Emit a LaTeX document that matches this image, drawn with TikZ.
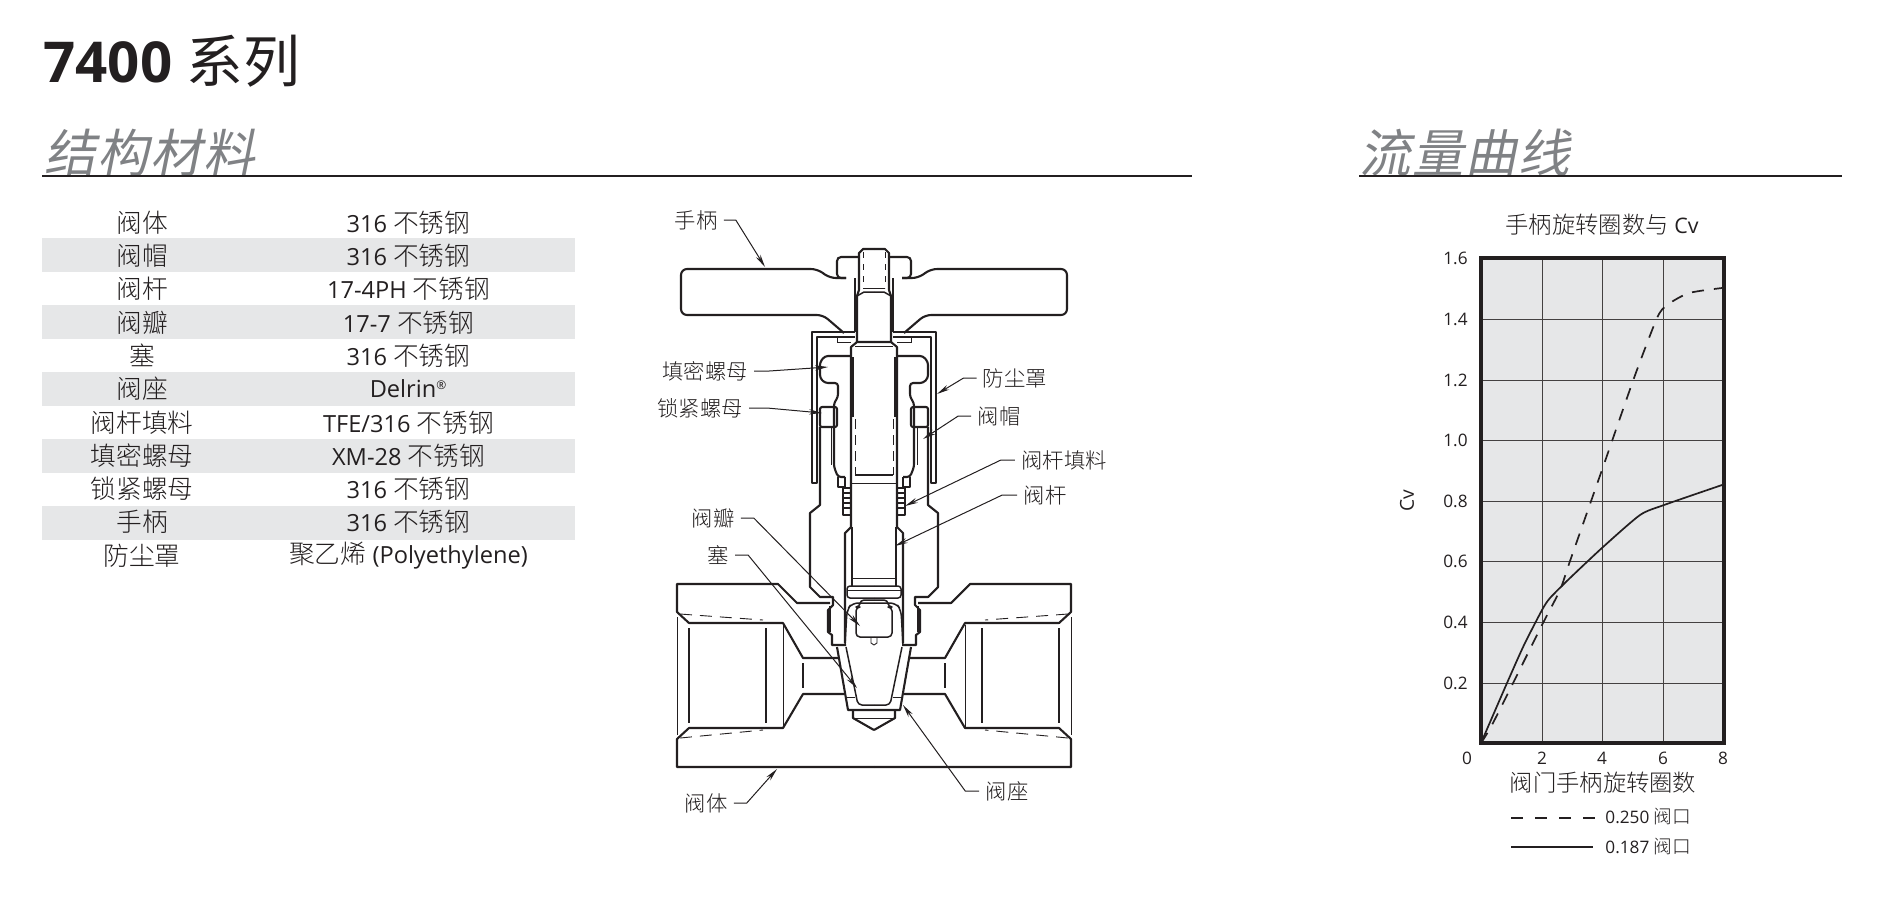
\documentclass[tikz,border=0pt]{standalone}
\usepackage{fontspec}
\usetikzlibrary{arrows.meta}
\setmainfont{Open Sans}
\newfontfamily\cjk[Scale=1.09]{Noto Sans CJK SC Light}
\newfontfamily\cjkhead{Noto Sans CJK SC}
\newfontfamily\cjkslant[FakeSlant=0.2,LetterSpace=3]{Noto Sans CJK SC}
\definecolor{inkblack}{HTML}{231F20}
\definecolor{bandgrey}{HTML}{E6E7E8}
\definecolor{headgrey}{HTML}{808285}
\newcommand{\bxg}{{\cjk 不锈钢}}
\tikzset{
  valveline/.style={line width=1.05pt,line join=round,color=inkblack},
  valvemid/.style={line width=0.75pt,line join=round,color=inkblack},
  valvethin/.style={line width=0.45pt,color=inkblack},
  leader/.style={line width=0.5pt,color=inkblack,->},
  partlabel/.style={font=\cjk\fontsize{9.8}{11}\selectfont,text=inkblack,inner sep=3pt},
  tabletext/.style={font=\fontsize{11.8}{13}\selectfont,text=inkblack,inner sep=0pt},
  ticklabel/.style={font=\fontsize{8.6}{10}\selectfont,text=inkblack,inner sep=0pt},
  chartline/.style={line width=0.85pt,color=inkblack},
  >={Stealth[length=6.5pt,width=2.6pt]}
}
\begin{document}
\begin{tikzpicture}[x=0.5pt,y=-0.5pt]
  \useasboundingbox (0,0) rectangle (1884,902);

  % page heads
  \node[anchor=base west,inner sep=0pt,text=inkblack] (mainTitle) at (43,82)
    {\fontsize{28.2}{30}\selectfont\bfseries 7400 {\mdseries\cjkhead\fontsize{28.4}{30}\selectfont 系列}};
  \node[anchor=west,inner sep=0pt,text=headgrey] (matHead) at (44,152.5)
    {\cjkslant\fontsize{25.8}{28}\selectfont 结构材料};
  \node[anchor=west,inner sep=0pt,text=headgrey] (flowHead) at (1359,152.5)
    {\cjkslant\fontsize{25.8}{28}\selectfont 流量曲线};
  \draw[line width=0.8pt,color=inkblack] (42,176) -- (1192,176);
  \draw[line width=0.8pt,color=inkblack] (1359,176) -- (1842,176);

  % materials table
  \foreach \i in {1,3,5,7,9}
    \fill[bandgrey] (42,204.75+33.5*\i) rectangle (575,238.25+33.5*\i);
  \foreach \part/\mat [count=\i from 0] in {
      阀体/316 \bxg, 阀帽/316 \bxg, 阀杆/17-4PH \bxg, 阀瓣/17-7 \bxg,
      塞/316 \bxg, 阀座/Delrin\textsuperscript{\fontsize{6}{6}\selectfont ®}, 阀杆填料/{TFE/316 \bxg},
      填密螺母/XM-28 \bxg, 锁紧螺母/316 \bxg, 手柄/316 \bxg,
      防尘罩/{{\cjk 聚乙烯} (Polyethylene)}} {
    \node[tabletext] (part\i) at (142,222.5+33.3*\i) {\cjk \part};
    \node[tabletext] (mat\i) at (408.5,222.5+33.3*\i) {\mat};
  }

  % valve, drawn as left half and mirrored about x=874
  \foreach \s in {1,-1} {
  \begin{scope}[shift={(874,0)},xscale=\s,shift={(-874,0)}]
    % handle and nut
    \draw[valveline,rounded corners=3pt] (846,278) -- (830,278) -- (817,269) -- (681,269) -- (681,315) -- (823,315) -- (844,333);
    \draw[valveline,rounded corners=2pt] (846,278) -- (837,278) -- (837,257) -- (859,257);
    \draw[valveline] (855,278) -- (855,332);
    % stem top
    \draw[valveline] (874,249) -- (863,249) -- (859,253) -- (859,290) -- (857,296) -- (857,342);
    \draw[valvethin,dashed] (863,252) -- (863,288);
    \draw[valvethin] (863,288) -- (874,288);
    \draw[valvemid] (857,296) -- (864,292) -- (874,292);
    % stem body
    \draw[valveline] (874,342) -- (857,342) -- (851,347) -- (851,527);
    \draw[valvethin] (855,346) -- (874,346);
    \draw[valveline] (853,357) -- (853,417);
    \draw[valvethin,dash pattern=on 5pt off 3pt] (855,419) -- (855,475);
    \draw[valvemid] (855,475) -- (874,475);
    \draw[valvethin] (851,483) -- (874,483);
    \draw[valvemid] (852,527) -- (852,586);
    \draw[valvethin] (852,578) -- (874,578);
    % dust cap
    \draw[valveline] (855,332) -- (812,332) -- (812,483) -- (817,483) -- (817,337) -- (855,337);
    \draw[valvethin] (837,337) -- (837,342) -- (851,342);
    % packing nut, lock nut, bonnet
    \draw[valveline,rounded corners=1.5pt] (851,356) -- (825,356) -- (820,362) -- (820,378) -- (825,383) -- (838,383) -- (838,397) -- (834,403) -- (834,467) -- (838,477) -- (845,477);
    \draw[valveline,rounded corners=1pt] (837,407) -- (820,407) -- (820,427) -- (837,427) -- cycle;
    \draw[valvethin] (831,428) -- (831,465);
    \draw[valvemid] (838,477) -- (838,487) -- (845,487) -- (845,477);
    \draw[valveline] (820,427) -- (820,505) -- (810,513) -- (810,587) -- (820,597) -- (833,597) -- (833,605) -- (828,610) -- (828,632) -- (832,635) -- (832,645) -- (846,645);
    \draw[valvemid] (830,606) -- (830,632);
    \draw[valveline] (845,643) -- (845,533) -- (851,527);
    % packing
    \draw[valveline] (843,488) -- (843,515) -- (852,515);
    \draw[valveline] (843,488) -- (852,488);
    \foreach \yr in {493,498,503,508}
      \draw[valvemid] (844,\yr) -- (851,\yr);
    % flange, cage and disc
    \draw[valvemid,rounded corners=1.5pt] (874,586) -- (847,586) -- (847,598) -- (874,598);
    \draw[valvethin] (847,590) -- (874,590);
    \draw[valvemid,rounded corners=3pt] (874,603) -- (852,603) -- (847,610) -- (845,645);
    \draw[valvemid,rounded corners=2pt] (874,600) -- (860,600) -- (860,607) -- (856,607) -- (856,637) -- (874,637);
    \draw[valvethin] (871,637) -- (871,643) -- (874,645) ;
    % seat and plug
    \draw[valveline] (837,647) -- (848,710) -- (874,710);
    \draw[valvemid,rounded corners=2pt] (846,647) -- (858,705) -- (874,705);
    \draw[valvethin] (846,697) -- (855,697);
    \draw[valveline] (853,711) -- (853,718) -- (874,730);
    \draw[valvethin] (853,718) -- (874,718);
    % body
    \draw[valveline] (830,603) -- (797,603) -- (778,584) -- (677,584) -- (677,612) -- (689,623) -- (783,623) -- (803,658) -- (839,658);
    \draw[valveline] (844.5,694) -- (803,694) -- (783,728) -- (689,728) -- (677,739) -- (677,767) -- (874,767);
    \draw[valvethin] (677,617) -- (677,735);
    \draw[valvemid] (689,628) -- (689,723);
    \draw[valvemid] (766,628) -- (766,723);
    \draw[valvethin] (783,625) -- (783,727);
    \draw[valvemid] (803,663) -- (803,688);
    \draw[valvethin,dash pattern=on 6pt off 4pt] (680,614) -- (763,620);
    \draw[valvethin,dash pattern=on 6pt off 4pt] (680,738) -- (763,730);
  \end{scope}
  }

  % part labels
  \node[partlabel] (handleLbl) at (696,220) {手柄};
  \node[partlabel] (glandLbl) at (705,371) {填密螺母};
  \node[partlabel] (lockLbl) at (700,408) {锁紧螺母};
  \node[partlabel] (capLbl) at (1015,378) {防尘罩};
  \node[partlabel] (bonnetLbl) at (999,416) {阀帽};
  \node[partlabel] (packLbl) at (1064,460) {阀杆填料};
  \node[partlabel] (stemLbl) at (1045,495) {阀杆};
  \node[partlabel] (discLbl) at (713,518) {阀瓣};
  \node[partlabel] (plugLbl) at (718,555) {塞};
  \node[partlabel] (seatLbl) at (1007,791) {阀座};
  \node[partlabel] (bodyLbl) at (706,803) {阀体};

  \coordinate (handleTip) at (765,267);
  \coordinate (glandTip) at (828,367);
  \coordinate (lockTip) at (822,413);
  \coordinate (capTip) at (937,394);
  \coordinate (bonnetTip) at (923,439);
  \coordinate (packTip) at (905,506);
  \coordinate (stemTip) at (895,546);
  \coordinate (discTip) at (860,626);
  \coordinate (plugTip) at (857,688);
  \coordinate (seatTip) at (903,705);
  \coordinate (bodyTip) at (777,769);

  \draw[leader] (handleLbl.east) -- ++(12,0) -- (handleTip);
  \draw[leader] (glandLbl.east) -- ++(15,0) -- (glandTip);
  \draw[leader] (lockLbl.east) -- ++(18,0) -- (lockTip);
  \draw[leader] (capLbl.west) -- ++(-13,0) -- (capTip);
  \draw[leader] (bonnetLbl.west) -- ++(-13,0) -- (bonnetTip);
  \draw[leader] (packLbl.west) -- ++(-14,0) -- (packTip);
  \draw[leader] (stemLbl.west) -- ++(-15,0) -- (stemTip);
  \draw[leader] (discLbl.east) -- ++(13,0) -- (discTip);
  \draw[leader] (plugLbl.east) -- ++(13,0) -- (plugTip);
  \draw[leader] (seatLbl.west) -- ++(-14,0) -- (seatTip);
  \draw[leader] (bodyLbl.east) -- ++(13,0) -- (bodyTip);

  % flow chart
  \fill[bandgrey] (1481,258) rectangle (1724,743);
  \foreach \x/\xtext in {1542/2, 1602/4, 1663/6, 1723/8}
    \node[ticklabel] (xtick\xtext) at (\x,758) {\xtext};
  \node[ticklabel] (xtick0) at (1467,758) {0};
  \foreach \x in {1542,1602,1663}
    \draw[line width=0.5pt,color=inkblack!85] (\x,258) -- (\x,743);
  \foreach \y/\ytext in {683/0.2, 622/0.4, 561.5/0.6, 501/0.8, 440.5/1.0, 380/1.2, 319/1.4, 258/1.6} {
    \draw[line width=0.5pt,color=inkblack!85] (1481,\y) -- (1724,\y);
    \node[ticklabel,anchor=east] (ytick\ytext) at (1468,\y) {\ytext};
  }
  \draw[chartline,dash pattern=on 6pt off 5pt] plot[smooth,tension=0.4] coordinates {(1481,743) (1494,721) (1542,625) (1560,590) (1570,561) (1603,467) (1634,378) (1657,318) (1667,305) (1689,293) (1722,288)};
  \draw[chartline] plot[smooth,tension=0.4] coordinates {(1481,743) (1507,683) (1524,645) (1542,610) (1550,598) (1570,578) (1603,547) (1640,515) (1664,505) (1722,485)};
  \draw[line width=2pt,color=inkblack] (1481,258) rectangle (1724,743);
  \node[font=\fontsize{10.7}{12}\selectfont,text=inkblack,inner sep=0pt] (chartTitle) at (1602,224.5) {{\cjk 手柄旋转圈数与} Cv};
  \node[font=\fontsize{9.6}{11}\selectfont,text=inkblack,inner sep=0pt,rotate=90] (cvLabel) at (1407,501) {Cv};
  \node[font=\cjk\fontsize{10.7}{12}\selectfont,text=inkblack,inner sep=0pt] (xLabel) at (1603,783) {阀门手柄旋转圈数};
  \node[ticklabel,anchor=west] (dashKey) at (1605,817) {0.250\ {\cjk 阀口}};
  \node[ticklabel,anchor=west] (solidKey) at (1605,846.5) {0.187\ {\cjk 阀口}};
  \coordinate (dashStart) at (1511,818);
  \coordinate (solidStart) at (1511,847);
  \draw[chartline,dash pattern=on 6pt off 6pt] (dashStart) -- ++(84,0);
  \draw[chartline] (solidStart) -- ++(82,0);
\end{tikzpicture}
\end{document}
